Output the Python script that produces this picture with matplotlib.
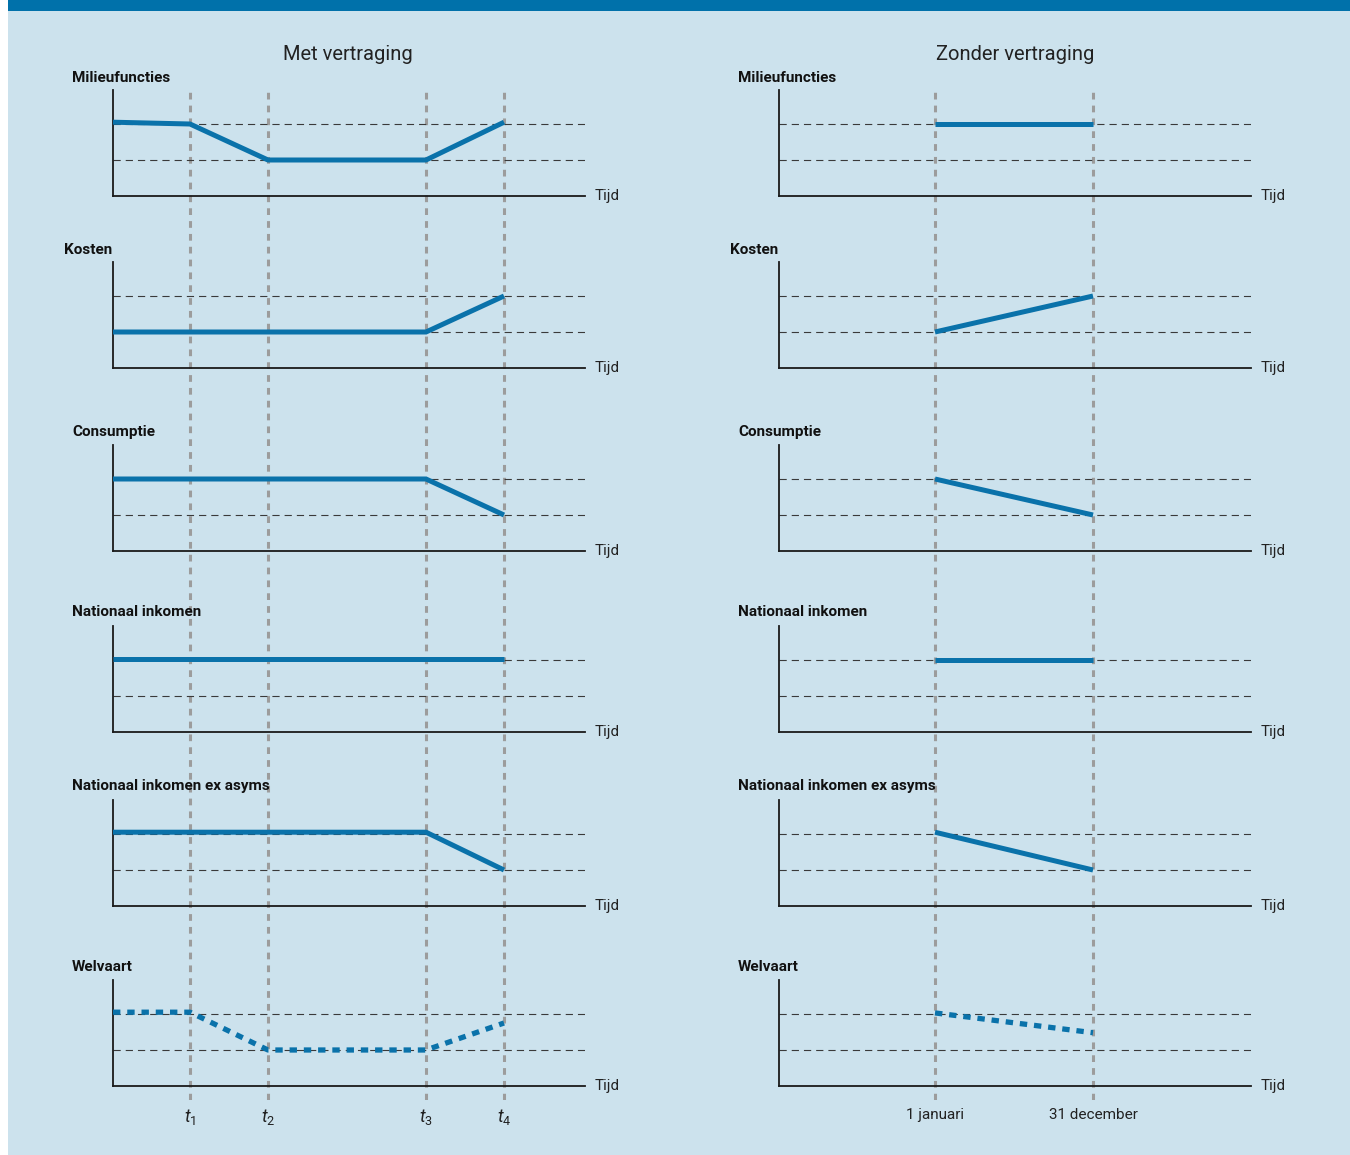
import matplotlib
matplotlib.use("Agg")
import matplotlib.pyplot as plt
from matplotlib.patches import Rectangle

FONT = ['Liberation Sans Narrow', 'Roboto', 'DejaVu Sans']
plt.rcParams['font.family'] = FONT
plt.rcParams['mathtext.fontset'] = 'custom'
plt.rcParams['mathtext.it'] = 'Roboto:italic'
plt.rcParams['mathtext.rm'] = 'Roboto'

# ---------------- data ----------------
panel_labels = ["Milieufuncties", "Kosten", "Consumptie", "Nationaal inkomen",
                "Nationaal inkomen ex asyms", "Welvaart"]
titles = ["Met vertraging", "Zonder vertraging"]

# time positions (axis runs 0..472)
time_left = [0, 77, 155, 313, 391]
time_left_marks = [77, 155, 313, 391]
time_left_labels = [r"$t_1$", r"$t_2$", r"$t_3$", r"$t_4$"]
time_right = [156, 314]
time_right_labels = ["1 januari", "31 december"]

# levels (0 = time axis, dashed reference lines at 1 and 2)
ref_levels = [1, 2]
left_series = [
    [2.05, 2.0, 1.0, 1.0, 2.05],   # Milieufuncties
    [1.0, 1.0, 1.0, 1.0, 2.0],     # Kosten
    [2.0, 2.0, 2.0, 2.0, 1.0],     # Consumptie
    [2.03, 2.03, 2.03, 2.03, 2.03],# Nationaal inkomen
    [2.05, 2.05, 2.05, 2.05, 1.0], # NI ex asyms
    [2.05, 2.05, 1.0, 1.0, 1.75],  # Welvaart
]
right_series = [
    [2.0, 2.0],
    [1.0, 2.0],
    [2.0, 1.0],
    [2.0, 2.0],
    [2.05, 1.0],
    [2.03, 1.48],
]

# ---------------- layout (pixels) ----------------
W, H = 1350, 1155
BG = "#cce2ed"
BAR = "#0071aa"
LINE = "#0a72aa"
GRAY = "#9c9c9c"

fig = plt.figure(figsize=(W / 100, H / 100), dpi=100)
fig.patch.set_facecolor("white")
fig.patches.append(Rectangle((8 / W, 0), 1 - 8 / W, 1, transform=fig.transFigure,
                             facecolor=BG, edgecolor="none", zorder=-10))
fig.patches.append(Rectangle((8 / W, 1 - 11 / H), 1 - 8 / W, 11 / H, transform=fig.transFigure,
                             facecolor=BAR, edgecolor="none", zorder=-9))

def fx(x):
    return x / W

def fy(y):
    return 1 - y / H

AX_LEN = 472
UNIT = 36.0
YTOP = 2.95
axis_bottoms = [196, 368, 551, 732, 906, 1086]
label_y = [78, 250, 432, 612, 786, 967]
col_x = [113, 779]
label_x_offsets = [-41, -49, -41, -41, -41, -41]

def overlay(x0, marks):
    ov = fig.add_axes([fx(x0), fy(1100), AX_LEN / W, (1100 - 92) / H], zorder=1)
    ov.set_xlim(0, AX_LEN)
    ov.set_ylim(0, 1)
    ov.axis("off")
    for m in marks:
        ov.axvline(m, color=GRAY, lw=2.2, linestyle=(0, (2.2, 2.0)), zorder=1)

overlay(col_x[0], time_left_marks)
overlay(col_x[1], time_right)

for c, x0 in enumerate(col_x):
    series = left_series if c == 0 else right_series
    times = time_left if c == 0 else time_right
    for i, yb in enumerate(axis_bottoms):
        h = YTOP * UNIT
        ax = fig.add_axes([fx(x0), fy(yb), AX_LEN / W, h / H], zorder=2)
        ax.patch.set_alpha(0)
        ax.set_xlim(0, AX_LEN)
        ax.set_ylim(0, YTOP)
        for s in ["top", "right"]:
            ax.spines[s].set_visible(False)
        for s in ["left", "bottom"]:
            ax.spines[s].set_linewidth(1.3)
            ax.spines[s].set_color("#1a1a1a")
        ax.set_xticks([])
        ax.set_yticks([])
        for lv in ref_levels:
            ax.axhline(lv, color="#3a3a3a", lw=0.8, linestyle=(0, (6.5, 4.5)), zorder=1)
        if i == 5:
            ax.plot(times, series[i], color=LINE, lw=3.8, linestyle=(0, (1.4, 1.3)),
                    solid_capstyle="butt", dash_capstyle="butt", zorder=3, clip_on=False)
        else:
            ax.plot(times, series[i], color=LINE, lw=3.6, solid_capstyle="butt",
                    solid_joinstyle="miter", zorder=3, clip_on=False)
        fig.text(fx(x0 + AX_LEN + 10), fy(yb), "Tijd", fontsize=11, color="#222222",
                 ha="left", va="center")
        fig.text(fx(x0 + label_x_offsets[i]), fy(label_y[i]), panel_labels[i], fontsize=11,
                 fontweight="bold", color="#111111", ha="left", va="center")

# titles
fig.text(fx(348), fy(54), titles[0], fontsize=14.5, color="#222222", ha="center", va="center")
fig.text(fx(1015), fy(54), titles[1], fontsize=14.5, color="#222222", ha="center", va="center")

# time labels
for m, lab in zip(time_left_marks, time_left_labels):
    fig.text(fx(col_x[0] + m), fy(1117), lab, fontsize=13, color="#222222",
             ha="center", va="center")
for m, lab in zip(time_right, time_right_labels):
    fig.text(fx(col_x[1] + m), fy(1115), lab, fontsize=11, color="#222222",
             ha="center", va="center")

fig.savefig("out.png", dpi=100, facecolor=fig.get_facecolor())
